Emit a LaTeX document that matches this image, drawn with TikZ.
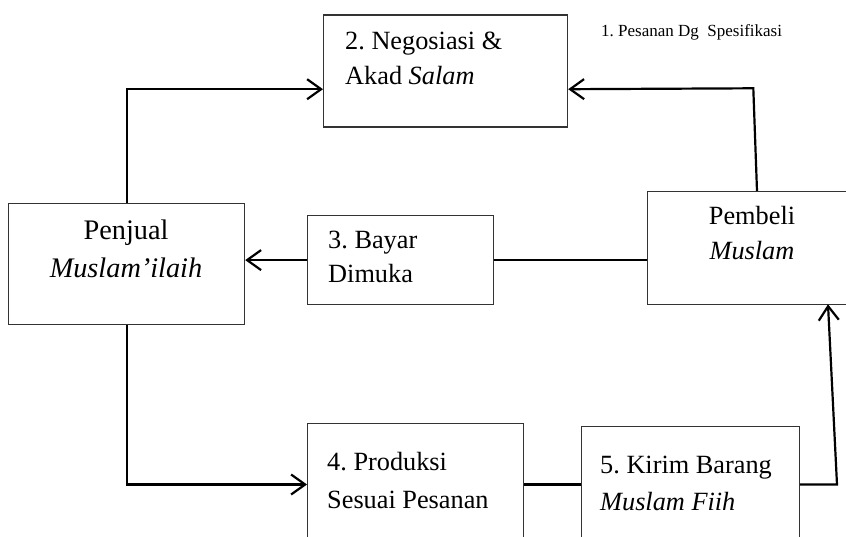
\documentclass[tikz,border=0pt]{standalone}
\usepackage{fontspec}
\setmainfont{Liberation Serif}
\usetikzlibrary{arrows.meta,calc}
\frenchspacing
\begin{document}
\begin{tikzpicture}[x=1pt,y=-1pt,
  box/.style={draw=black!80, line width=1.2pt, rectangle, anchor=north west, inner sep=0pt},
  conn/.style={line width=2.2pt, draw=black},
  arr/.style={conn, -{Straight Barb[length=14pt,width=20pt,line width=2.2pt]}},
  lbl/.style={font=\fontsize{26.3}{35}\selectfont, inner sep=0pt},
  big/.style={font=\fontsize{28.3}{38}\selectfont, inner sep=0pt},
  small/.style={font=\fontsize{17}{20}\selectfont, inner sep=0pt}]
\clip (0,0) rectangle (846,537);
% boxes
\node[box, minimum width=236pt, minimum height=121pt] (penjual) at (8,203) {};
\node[box, minimum width=244pt, minimum height=112pt] (neg) at (323,14.5) {};
\node[box, minimum width=186pt, minimum height=89pt] (bayar) at (307,215) {};
\node[box, minimum width=210pt, minimum height=113pt] (pembeli) at (647,191) {};
\node[box, minimum width=216pt, minimum height=140pt] (prod) at (307,423) {};
\node[box, minimum width=218pt, minimum height=140pt] (kirim) at (581,426) {};
% texts
\node[big, anchor=base] (tpj1) at (126,240) {Penjual};
\node[big, anchor=base] (tpj2) at (126,278) {\textit{Muslam’ilaih}};
\node[lbl, anchor=base west] (tng1) at (345,50) {2. Negosiasi \&};
\node[lbl, anchor=base west] (tng2) at (345,85) {Akad \textit{Salam}};
\node[lbl, anchor=base west] (tby1) at (328,249) {3. Bayar};
\node[lbl, anchor=base west] (tby2) at (328,283) {Dimuka};
\node[lbl, anchor=base] (tpb1) at (752,225) {Pembeli};
\node[lbl, anchor=base] (tpb2) at (752,260) {\textit{Muslam}};
\node[lbl, anchor=base west] (tpr1) at (327,470) {4. Produksi};
\node[lbl, anchor=base west] (tpr2) at (327,508) {Sesuai Pesanan};
\node[lbl, anchor=base west] (tkr1) at (600,473) {5. Kirim Barang};
\node[lbl, anchor=base west] (tkr2) at (600,510) {\textit{Muslam Fiih}};
\node[small, anchor=base west] (tps) at (601,37) {1. Pesanan Dg\ \ Spesifikasi};
% coordinates
\coordinate (negL) at ($(neg.north west)!0.66!(neg.south west)$);
\coordinate (negR) at ($(neg.north east)!0.66!(neg.south east)$);
\coordinate (pbtop) at (757,191);
\coordinate (bendTR) at (753.3,88.3);
\coordinate (prodL) at (307,484.5);
\coordinate (bendBR) at (837,484.5);
\coordinate (pbbot) at (828,304.3);
% connectors
\draw[arr] (penjual.north) |- (negL);
\draw[arr] (pbtop) -- (bendTR) -- (negR);
\draw[conn] (pembeli.west |- bayar.east) -- (bayar.east);
\draw[arr] (bayar.west) -- (bayar.west -| penjual.east);
\draw[arr] (penjual.south) |- (prodL);
\draw[conn] (prod.east |- prodL) -- (kirim.west |- prodL);
\draw[arr] (kirim.east |- bendBR) -- (bendBR) -- (pbbot);
\end{tikzpicture}
\end{document}
